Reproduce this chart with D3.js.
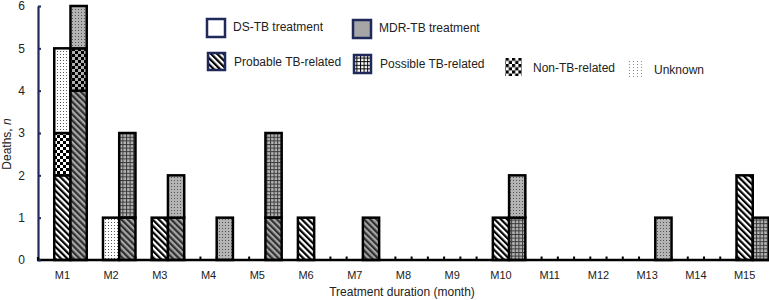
<!DOCTYPE html>
<html>
<head>
<meta charset="utf-8">
<script src="https://cdn.jsdelivr.net/npm/d3@7"></script>
<style>
  html, body { margin: 0; padding: 0; background: #fff; }
  svg { display: block; font-family: "Liberation Sans", Arial, sans-serif; }
</style>
</head>
<body>
<svg id="chart" width="769" height="300"></svg>
<script>
// ---- Data ----
const months = ["M1","M2","M3","M4","M5","M6","M7","M8","M9","M10","M11","M12","M13","M14","M15"];
const causes = ["probable","possible","nonTB","unknown"];
const dsProbable  = [2,0,1,0,0,1,0,0,0,1,0,0,0,0,2];
const dsPossible  = [0,0,0,0,0,0,0,0,0,0,0,0,0,0,0];
const dsNonTB     = [1,0,0,0,0,0,0,0,0,0,0,0,0,0,0];
const dsUnknown   = [2,1,0,0,0,0,0,0,0,0,0,0,0,0,0];
const mdrProbable = [4,1,1,0,1,0,1,0,0,0,0,0,0,0,0];
const mdrPossible = [0,2,0,0,2,0,0,0,0,1,0,0,0,0,1];
const mdrNonTB    = [1,0,0,0,0,0,0,0,0,0,0,0,0,0,0];
const mdrUnknown  = [1,0,1,1,0,0,0,0,0,1,0,0,1,0,0];
const yTicks = [0,1,2,3,4,5,6];
const legendItems = [
  {label: "DS-TB treatment", fill: "legDS"},
  {label: "MDR-TB treatment", fill: "legMDR"},
  {label: "Probable TB-related", fill: "legProb"},
  {label: "Possible TB-related", fill: "legPoss"},
  {label: "Non-TB-related", fill: "legNon"},
  {label: "Unknown", fill: "legUnk"}
];

// ---- Tables ----
const dsTable = months.map((m,i)=>({month:m, probable:dsProbable[i], possible:dsPossible[i], nonTB:dsNonTB[i], unknown:dsUnknown[i]}));
const mdrTable = months.map((m,i)=>({month:m, probable:mdrProbable[i], possible:mdrPossible[i], nonTB:mdrNonTB[i], unknown:mdrUnknown[i]}));

const svg = d3.select("#chart");
const W = 769, H = 300;
const margin = {left: 38, right: 0, top: 6, bottom: 40};

// ---- Patterns ----
const defs = svg.append("defs");
function stripes(id, bg, fg) {
  const p = defs.append("pattern").attr("id", id).attr("patternUnits","userSpaceOnUse")
    .attr("width", 4.4).attr("height", 4.4).attr("patternTransform","rotate(-45)");
  p.append("rect").attr("width",4.4).attr("height",4.4).attr("fill",bg);
  p.append("rect").attr("width",2.2).attr("height",4.4).attr("fill",fg);
}
function checker(id, bg, fg, s) {
  const p = defs.append("pattern").attr("id", id).attr("patternUnits","userSpaceOnUse")
    .attr("width", 2*s).attr("height", 2*s);
  p.append("rect").attr("width",2*s).attr("height",2*s).attr("fill",bg);
  p.append("rect").attr("width",s).attr("height",s).attr("fill",fg);
  p.append("rect").attr("x",s).attr("y",s).attr("width",s).attr("height",s).attr("fill",fg);
}
function grid(id, bg, fg, s) {
  const p = defs.append("pattern").attr("id", id).attr("patternUnits","userSpaceOnUse")
    .attr("width", s).attr("height", s);
  p.append("rect").attr("width",s).attr("height",s).attr("fill",bg);
  p.append("rect").attr("width",s).attr("height",1).attr("fill",fg);
  p.append("rect").attr("width",1).attr("height",s).attr("fill",fg);
}
function dots(id, bg, fg) {
  const p = defs.append("pattern").attr("id", id).attr("patternUnits","userSpaceOnUse")
    .attr("width", 3).attr("height", 3);
  p.append("rect").attr("width",3).attr("height",3).attr("fill",bg);
  p.append("rect").attr("x",0).attr("y",0).attr("width",1).attr("height",1).attr("fill",fg);
}
stripes("dsProbable", "#ffffff", "#000000");
stripes("mdrProbable", "#a8a8a8", "#303030");
grid("dsPossible", "#ffffff", "#000000", 3.6);
grid("mdrPossible", "#b4b4b4", "#3a3a3a", 3.6);
checker("dsNonTB", "#ffffff", "#000000", 3);
checker("mdrNonTB", "#b0b0b0", "#000000", 3);
dots("dsUnknown", "#ffffff", "#5a5a5a");
dots("mdrUnknown", "#b4b4b4", "#555555");
// legend patterns
stripes("legProb", "#ffffff", "#000000");
grid("legPoss", "#ffffff", "#000000", 3.6);
checker("legNon", "#ffffff", "#000000", 3.2);
(function(){
  const p = defs.append("pattern").attr("id","legUnkPat").attr("patternUnits","userSpaceOnUse").attr("width",4).attr("height",3);
  p.append("rect").attr("width",4).attr("height",3).attr("fill","#fff");
  p.append("rect").attr("x",1).attr("y",1).attr("width",1).attr("height",1).attr("fill","#8a8a8a");
})();

// ---- Scales ----
const x = d3.scaleBand().domain(months).range([margin.left, W - margin.right]).padding(0);
const sub = d3.scaleBand().domain(["gap","DS","MDR"]).range([0, x.bandwidth()]).padding(0);
const y = d3.scaleLinear().domain([0, 6]).range([H - margin.bottom, margin.top]);

// ---- X axis baseline & slot ticks ----
const slotEdges = [];
months.forEach(m => ["gap","DS","MDR"].forEach(s => slotEdges.push(x(m) + sub(s) + sub.bandwidth())));
svg.append("g").selectAll("line").data(slotEdges).join("line")
  .attr("x1", d=>d).attr("x2", d=>d).attr("y1", y(0)).attr("y2", y(0)-3.5)
  .attr("stroke", "#000").attr("stroke-width", 2);

// ---- Bars ----
const stack = d3.stack().keys(causes);
function drawBars(table, kind) {
  const series = stack(table);
  const g = svg.append("g");
  series.forEach(s => {
    g.selectAll(null).data(s.filter(d => d[1] > d[0])).join("rect")
      .attr("x", d => x(d.data.month) + sub(kind))
      .attr("width", sub.bandwidth())
      .attr("y", d => y(d[1]))
      .attr("height", d => y(d[0]) - y(d[1]))
      .attr("fill", `url(#${kind.toLowerCase()}${s.key.charAt(0).toUpperCase()+s.key.slice(1)})`)
      .attr("stroke", "#000").attr("stroke-width", 2.5);
  });
}
drawBars(dsTable, "DS");
drawBars(mdrTable, "MDR");

// x axis line
svg.append("line").attr("x1", margin.left - 1).attr("x2", W).attr("y1", y(0)).attr("y2", y(0))
  .attr("stroke", "#000").attr("stroke-width", 2.5);

// ---- Y axis ----
const yAxis = svg.append("g").attr("transform", `translate(${margin.left},0)`)
  .call(d3.axisLeft(y).tickValues(yTicks).tickFormat(d3.format("d")).tickSizeInner(-3).tickSizeOuter(0).tickPadding(13));
yAxis.select(".domain").attr("stroke", "#1f2a5a").attr("stroke-width", 2.2);
yAxis.selectAll(".tick line").attr("stroke", "#1f2a5a").attr("stroke-width", 2);
yAxis.selectAll(".tick text").attr("font-size", 12).attr("fill", "#222").attr("font-family", "Liberation Sans, Arial, sans-serif");
svg.append("line").attr("x1", margin.left).attr("x2", margin.left).attr("y1", y(0)).attr("y2", y(0) - 3)
  .attr("stroke", "#000").attr("stroke-width", 2.2);

// month labels
svg.append("g").selectAll("text").data(months).join("text")
  .attr("x", d => x(d) + sub("DS") + sub.bandwidth()/2)
  .attr("y", 279)
  .attr("text-anchor", "middle").attr("font-size", 11).attr("fill", "#222")
  .text(d => d);

// axis titles
svg.append("text").attr("x", 402).attr("y", 296).attr("text-anchor", "middle")
  .attr("font-size", 12).attr("fill", "#222").text("Treatment duration (month)");
const yt = svg.append("text").attr("transform", "translate(11,144) rotate(-90)")
  .attr("text-anchor", "middle").attr("font-size", 12).attr("fill", "#222");
yt.append("tspan").text("Deaths, ");
yt.append("tspan").attr("font-style", "italic").text("n");

// ---- Legend ----
const legPos = [
  {sx: 207, sy: 19, tx: 233, ty: 31, w: 18, h: 18, border: true},
  {sx: 353, sy: 20, tx: 379, ty: 32, w: 18, h: 18, border: true},
  {sx: 208, sy: 53, tx: 234, ty: 66, w: 17, h: 17, border: true},
  {sx: 354, sy: 55, tx: 380, ty: 68, w: 17, h: 18, border: true},
  {sx: 505, sy: 58, tx: 533, ty: 72, w: 17, h: 18, border: false},
  {sx: 629, sy: 61, tx: 654, ty: 74, w: 16, h: 17, border: false}
];
const fills = {legDS: "#ffffff", legMDR: "#a6a6a6", legProb: "url(#legProb)", legPoss: "url(#legPoss)", legNon: "url(#legNon)", legUnk: "url(#legUnkPat)"};
const lg = svg.append("g");
legendItems.forEach((it, i) => {
  const p = legPos[i];
  lg.append("rect").attr("x", p.sx).attr("y", p.sy).attr("width", p.w).attr("height", p.h)
    .attr("fill", fills[it.fill])
    .attr("stroke", p.border ? "#1f2a5a" : "none").attr("stroke-width", 2.5);
  lg.append("text").attr("x", p.tx).attr("y", p.ty).attr("font-size", 12).attr("fill", "#222").text(it.label);
});
</script>
</body>
</html>
